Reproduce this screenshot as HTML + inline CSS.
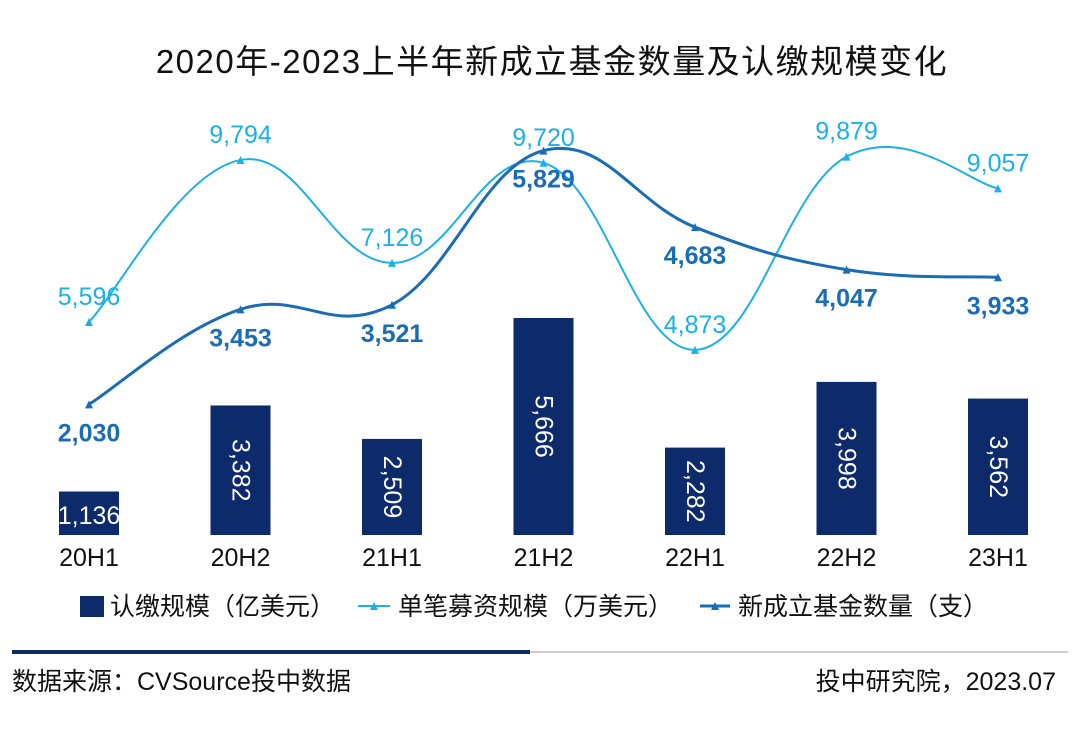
<!DOCTYPE html>
<html><head><meta charset="utf-8"><style>
body{margin:0;background:#fff;font-family:"Liberation Sans","Noto Sans CJK SC",sans-serif;}
svg text{font-family:"Liberation Sans","Noto Sans CJK SC",sans-serif;}
</style></head><body>
<svg id="c" width="1080" height="728" viewBox="0 0 1080 728">
<text x="552" y="73" text-anchor="middle" font-size="33" letter-spacing="1.5" fill="#111">2020年-2023上半年新成立基金数量及认缴规模变化</text>
<g id="bars"></g><g id="lines"></g><g id="labels"></g>
<g>
<rect x="80" y="596" width="24" height="21" fill="#0d2a6b"/>
<text x="110" y="615" font-size="25" fill="#111">认缴规模（亿美元）</text>
<line x1="358" y1="606" x2="390" y2="606" stroke="#1bb0e8" stroke-width="2"/>
<path d="M370,610 L374,602 L378,610Z" fill="#1bb0e8"/>
<text x="398" y="615" font-size="25" fill="#111">单笔募资规模（万美元）</text>
<line x1="700" y1="606" x2="730" y2="606" stroke="#1a6db5" stroke-width="3"/>
<path d="M711,610 L715,602 L719,610Z" fill="#1a6db5"/>
<text x="738" y="615" font-size="25" fill="#111">新成立基金数量（支）</text>
</g>
<rect x="12" y="650" width="518" height="4" fill="#0d2a6b"/>
<rect x="530" y="651" width="538" height="2" fill="#ccc"/>
<text x="12" y="690" font-size="25" fill="#111">数据来源：CVSource投中数据</text>
<text x="1056" y="690" font-size="25" fill="#111" text-anchor="end">投中研究院，2023.07</text>
</svg>
<script>
const categories=["20H1","20H2","21H1","21H2","22H1","22H2","23H1"];
const scaleVals=[1136,3382,2509,5666,2282,3998,3562];
const singleVals=[5596,9794,7126,9720,4873,9879,9057];
const countVals=[2030,3453,3521,5829,4683,4047,3933];
const NS="http://www.w3.org/2000/svg";
const xAt=i=>89+i*151.5;
const yBar=v=>535-v*0.0383;
const yS=v=>538-v*0.0386;
const yC=v=>540-v*0.0668;
const fmt=v=>v.toLocaleString("en-US");
function mk(tag,attrs,parent){const e=document.createElementNS(NS,tag);for(const k in attrs)e.setAttribute(k,attrs[k]);document.getElementById(parent).appendChild(e);return e;}
categories.forEach((c,i)=>{
 const x=xAt(i),y=yBar(scaleVals[i]);
 const r=mk("rect",{x:x-30,y:y,width:60,height:535-y,fill:"#0d2a6b"},"bars");
 
 
 const t=mk("text",{x:x,y:566,"text-anchor":"middle","font-size":"25",fill:"#111"},"labels");
 t.textContent=c;
 
 
 let bl;
 if(535-y<80){bl=mk("text",{x:x,y:524,"text-anchor":"middle","font-size":"25",fill:"#fff"},"labels");}
 else{const cy=(y+535)/2;bl=mk("text",{x:x,y:cy,"text-anchor":"middle","dominant-baseline":"central","font-size":"25",fill:"#fff",transform:`rotate(90 ${x} ${cy})`},"labels");}
 bl.textContent=fmt(scaleVals[i]);
 
 
});
function path(pts){let d=`M${pts[0][0]},${pts[0][1]}`;const t=0.2;for(let i=0;i<pts.length-1;i++){const p0=pts[i-1]||pts[i],p1=pts[i],p2=pts[i+1],p3=pts[i+2]||p2;d+=` C${p1[0]+(p2[0]-p0[0])*t},${p1[1]+(p2[1]-p0[1])*t} ${p2[0]-(p3[0]-p1[0])*t},${p2[1]-(p3[1]-p1[1])*t} ${p2[0]},${p2[1]}`;}return d;}
function series(vals,yf,color,w,name,labelDy,bold){
 const pts=vals.map((v,i)=>[xAt(i),yf(v)]);
 const p=mk("path",{d:path(pts),fill:"none",stroke:color,"stroke-width":w},"lines");
 
 
 pts.forEach((q,i)=>{
  const m=mk("path",{d:`M${q[0]-4},${q[1]+4} L${q[0]},${q[1]-4} L${q[0]+4},${q[1]+4}Z`,fill:color},"lines");
  
  
  const t=mk("text",{x:q[0],y:q[1]+labelDy,"text-anchor":"middle","font-size":"25",fill:color,"font-weight":bold?"bold":"normal"},"labels");
  t.textContent=fmt(vals[i]);
  
  
 });
}
series(singleVals,yS,"#1bb0e8",2,"single-raise",-17,false);
series(countVals,yC,"#1a6db5",3,"fund-count",37,true);
</script>
</body></html>
